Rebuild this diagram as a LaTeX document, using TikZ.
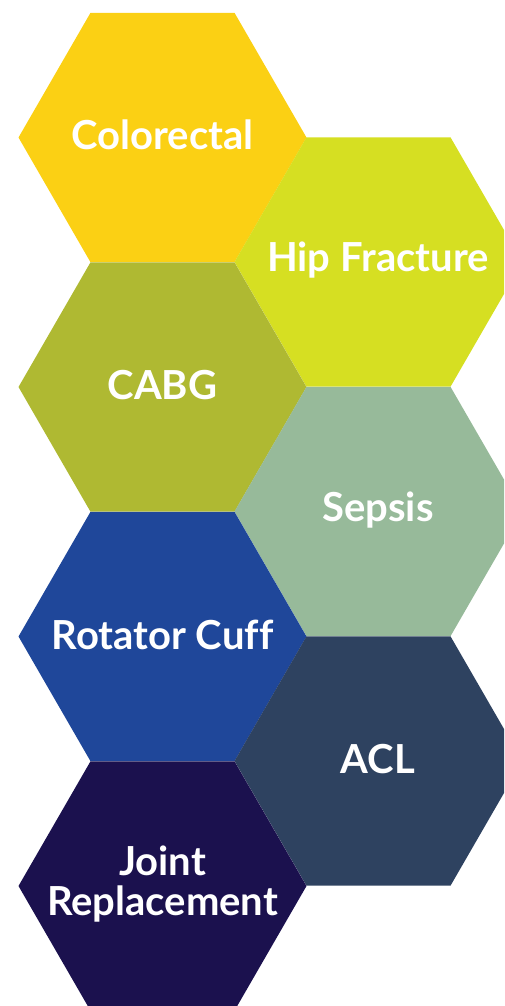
\documentclass[tikz,border=0pt]{standalone}
\usepackage{fontspec}
\setmainfont{Lato}[Ligatures=NoCommon]
\definecolor{cColorectal}{HTML}{FBD014}
\definecolor{cHip}{HTML}{D6DF22}
\definecolor{cCABG}{HTML}{AFB932}
\definecolor{cSepsis}{HTML}{97BA9A}
\definecolor{cRotator}{HTML}{1F479A}
\definecolor{cACL}{HTML}{2E4260}
\definecolor{cJoint}{HTML}{1B114E}
\tikzset{
  hexlabel/.style={text=white, align=center, inner sep=0pt,
    font=\bfseries\fontsize{40}{40}\selectfont},
  hexcell/.pic={\fill (-144,0) -- (-72,-124.7) -- (72,-124.7) -- (144,0)
    -- (72,124.7) -- (-72,124.7) -- cycle;}
}
\begin{document}
\begin{tikzpicture}[x=1pt,y=-1pt]
\useasboundingbox (0,0) rectangle (504,1006);
\clip (0,0) rectangle (504,1006);
\pic[cColorectal] at (162.5,137.5) {hexcell};
\pic[cHip] at (378.5,262) {hexcell};
\pic[cCABG] at (162.5,387) {hexcell};
\pic[cSepsis] at (378.5,511.5) {hexcell};
\pic[cRotator] at (162.5,636.5) {hexcell};
\pic[cACL] at (378.5,761) {hexcell};
\pic[cJoint] at (162.5,886) {hexcell};
\node[hexlabel] (colorectal) at (162.5,135) {Colorectal};
\node[hexlabel] (hip) at (378,260) {Hip Fracture};
\node[hexlabel] (cabg) at (162.5,385) {CABG};
\node[hexlabel] (sepsis) at (378,510) {Sepsis};
\node[hexlabel] (rotator) at (162.5,635) {Rotator Cuff};
\node[hexlabel] (acl) at (378,759) {ACL};
\node[hexlabel] (joint) at (162.5,884) {Joint\\Replacement};
\end{tikzpicture}
\end{document}
